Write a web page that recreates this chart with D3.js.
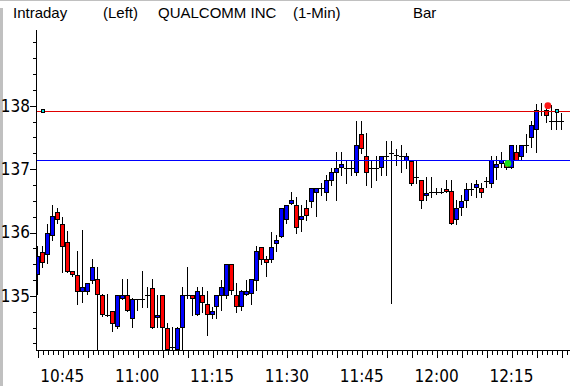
<!DOCTYPE html>
<html>
<head>
<meta charset="utf-8">
<script src="https://cdn.jsdelivr.net/npm/d3@7"></script>
<style>
    body { margin: 0; background: #fff; }
    svg { display: block; }
    .axis text { font-family: "Liberation Sans Narrow", "DejaVu Sans Condensed", sans-serif; font-size: 17px; fill: #000; }
    .title { font-family: "Liberation Sans", Arial, sans-serif; font-size: 15px; fill: #000; }
</style>
</head>
<body>
<svg id="chart"></svg>
<script>
// 1-minute bars, first bar at 10:40
const startTime = "10:40";
const opens = [
    135.34, 135.70, 135.66, 135.96, 136.32, 136.13, 135.85, 135.39, 135.33, 135.07,
    135.07, 135.25, 135.26, 135.01, 134.70, 134.76, 134.52, 134.96, 135.01, 134.65,
    134.95, 134.95, 135.01, 135.12, 134.66, 135.01, 134.50, 134.20, 134.16, 134.51,
    135.01, 135.01, 134.71, 135.01, 134.88, 134.71, 134.84, 135.01, 135.01, 135.51,
    135.01, 134.84, 135.03, 135.04, 135.25, 135.77, 135.58, 135.59, 135.84, 135.95,
    136.21, 136.46, 136.44, 136.21, 136.38, 136.50, 136.64, 136.70, 136.64, 136.83,
    136.96, 137.03, 137.01, 137.01, 136.96, 137.56, 137.20, 137.01, 137.01, 137.04,
    137.20, 137.26, 137.22, 137.21, 137.15, 137.13, 136.88, 136.83, 136.59, 136.64,
    136.64, 136.64, 136.69, 136.65, 136.21, 136.40, 136.52, 136.69, 136.71, 136.70,
    136.82, 136.78, 137.03, 137.09, 137.09, 137.03, 137.27, 137.21, 137.38, 137.51,
    137.64, 137.92, 137.94, 137.76, 137.76, 137.76
];
const highs = [
    135.78, 135.78, 136.13, 136.44, 136.39, 136.25, 136.03, 135.40, 135.71, 136.04,
    135.21, 135.58, 135.46, 135.03, 135.03, 134.76, 135.02, 135.27, 135.27, 134.96,
    134.95, 135.40, 135.14, 135.26, 135.01, 135.01, 134.57, 134.51, 134.51, 135.14,
    135.45, 135.01, 135.14, 135.14, 135.07, 134.83, 135.01, 135.25, 135.51, 135.51,
    135.20, 135.09, 135.25, 135.26, 135.78, 135.77, 135.63, 136.01, 135.96, 136.38,
    136.44, 136.64, 136.56, 136.44, 136.51, 136.70, 136.70, 136.78, 136.91, 137.01,
    137.27, 137.27, 137.14, 137.14, 137.76, 137.76, 137.57, 137.14, 137.21, 137.21,
    137.44, 137.44, 137.31, 137.38, 137.25, 137.13, 137.13, 136.83, 136.88, 136.88,
    136.70, 136.70, 136.83, 136.83, 136.51, 136.59, 136.78, 136.78, 136.83, 136.78,
    136.88, 137.21, 137.21, 137.27, 137.14, 137.38, 137.38, 137.38, 137.56, 137.76,
    138.02, 138.04, 138.04, 138.01, 137.94, 137.88
];
const lows = [
    135.03, 135.45, 135.52, 135.88, 136.15, 135.38, 135.38, 135.31, 134.88, 134.90,
    135.03, 135.20, 134.00, 134.69, 134.69, 134.44, 134.50, 134.95, 134.76, 134.51,
    134.78, 134.83, 134.83, 134.50, 134.51, 134.10, 134.10, 134.10, 134.10, 134.10,
    134.96, 134.70, 134.70, 134.75, 134.39, 134.65, 134.65, 134.78, 134.96, 135.03,
    134.75, 134.77, 135.02, 134.87, 135.09, 135.51, 135.31, 135.53, 135.71, 135.93,
    136.15, 136.45, 136.00, 136.02, 136.20, 136.40, 136.26, 136.59, 136.51, 136.75,
    136.51, 136.90, 136.78, 136.90, 136.90, 137.25, 136.75, 136.71, 136.83, 136.90,
    136.90, 134.89, 137.06, 136.96, 137.01, 136.75, 136.78, 136.38, 136.52, 136.56,
    136.61, 136.62, 136.64, 136.13, 136.13, 136.28, 136.41, 136.59, 136.56, 136.56,
    136.72, 136.71, 136.85, 137.03, 137.00, 137.02, 137.14, 137.14, 137.27, 137.35,
    137.27, 137.85, 137.75, 137.64, 137.64, 137.64
];
const closes = [
    135.63, 135.53, 136.00, 136.26, 136.21, 135.78, 135.40, 135.34, 135.07, 135.14,
    135.20, 135.46, 135.03, 134.71, 134.70, 134.58, 135.01, 135.01, 134.77, 134.95,
    134.95, 134.95, 135.01, 134.51, 134.70, 134.51, 134.16, 134.20, 134.50, 135.01,
    135.01, 134.96, 135.07, 134.90, 134.71, 134.76, 135.01, 135.14, 135.51, 135.09,
    134.84, 135.07, 135.07, 135.26, 135.71, 135.59, 135.53, 135.77, 135.88, 136.38,
    136.44, 136.51, 136.08, 136.26, 136.27, 136.70, 136.70, 136.70, 136.83, 136.95,
    137.02, 137.08, 137.01, 137.01, 137.38, 137.33, 136.96, 137.01, 137.01, 137.20,
    137.20, 137.26, 137.22, 137.21, 137.21, 136.78, 136.88, 136.52, 136.63, 136.64,
    136.64, 136.64, 136.65, 136.15, 136.38, 136.50, 136.69, 136.69, 136.76, 136.64,
    136.82, 137.14, 137.08, 137.14, 137.03, 137.38, 137.14, 137.38, 137.38, 137.69,
    137.94, 137.92, 137.85, 137.76, 137.76, 137.76
];

// horizontal lines and markers drawn over the bars
const redLevel = 137.92;
const blueLevel = 137.14;
const levelMarkTimes = ["10:41", "12:24"];
const dots = [
    { time: "12:14", value: 137.09, color: "#18e018" },
    { time: "12:22", value: 138.00, color: "#ff1818" }
];

const yLabelTicks = [135, 136, 137, 138];
const xLabelTimes = ["10:45", "11:00", "11:15", "11:30", "11:45", "12:00", "12:15"];

class CandleChart {
    constructor(_config = {}) {
        this.config = {
            parentElement: _config.parentElement,
            width: 570,
            height: 386,
            plot: { left: 36, right: 570, top: 30, bottom: 350 },
            xDomain: ["10:39:38", "12:26:38"],
            yDomain: [134.147, 139.194],
        };
        this.parseMin = d3.timeParse("%H:%M");
        this.parseSec = d3.timeParse("%H:%M:%S");
        this.initVis();
    }

    initVis() {
        let vis = this;
        const p = vis.config.plot;

        vis.svg = d3.select(vis.config.parentElement)
            .attr('width', vis.config.width)
            .attr('height', vis.config.height);

        vis.xScale = d3.scaleTime()
            .domain(vis.config.xDomain.map(vis.parseSec))
            .range([p.left, p.right]);

        vis.yScale = d3.scaleLinear()
            .domain(vis.config.yDomain)
            .range([p.bottom, p.top]);

        // window border
        vis.svg.append('rect')
            .attr('x', 0).attr('y', 0)
            .attr('width', vis.config.width).attr('height', 1)
            .attr('fill', '#c0c0c0');
        vis.svg.append('rect')
            .attr('x', 0).attr('y', 8)
            .attr('width', 3).attr('height', vis.config.height - 8)
            .attr('fill', '#c0c0c0');

        const titles = [
            { text: "Intraday", x: 13 },
            { text: "(Left)", x: 103 },
            { text: "QUALCOMM INC", x: 158 },
            { text: "(1-Min)", x: 293 },
            { text: "Bar", x: 413 },
        ];
        vis.svg.selectAll('.title')
            .data(titles)
            .enter()
            .append('text')
            .attr('class', 'title')
            .attr('x', d => d.x)
            .attr('y', 18)
            .text(d => d.text);

        vis.svg.append('clipPath')
            .attr('id', 'plot-clip')
            .append('rect')
            .attr('x', p.left).attr('y', p.top)
            .attr('width', p.right - p.left).attr('height', p.bottom - p.top);

        vis.chart = vis.svg.append('g')
            .attr('clip-path', 'url(#plot-clip)');

        vis.axisG = vis.svg.append('g');
    }

    renderVis() {
        let vis = this;
        const p = vis.config.plot;
        const start = vis.parseMin(startTime);

        vis.data = opens.map((o, i) => ({
            time: d3.timeMinute.offset(start, i),
            open: o, high: highs[i], low: lows[i], close: closes[i]
        }));

        const cx = d => Math.round(vis.xScale(d.time));
        const py = v => Math.round(vis.yScale(v));

        const bars = vis.chart.selectAll('.bar')
            .data(vis.data)
            .enter()
            .append('g')
            .attr('class', 'bar')
            .attr('shape-rendering', 'crispEdges');

        bars.append('line')
            .attr('x1', d => cx(d) - 0.5)
            .attr('x2', d => cx(d) - 0.5)
            .attr('y1', d => py(d.high))
            .attr('y2', d => py(d.low) + 1)
            .attr('stroke', '#000');

        bars.filter(d => d.open === d.close)
            .append('line')
            .attr('x1', d => cx(d) - 3)
            .attr('x2', d => cx(d) + 2)
            .attr('y1', d => py(d.open) + 0.5)
            .attr('y2', d => py(d.open) + 0.5)
            .attr('stroke', '#000');

        bars.filter(d => d.open !== d.close)
            .append('rect')
            .attr('x', d => cx(d) - 2.5)
            .attr('y', d => py(Math.max(d.open, d.close)) + 0.5)
            .attr('width', 4)
            .attr('height', d => Math.max(1, py(Math.min(d.open, d.close)) - py(Math.max(d.open, d.close))))
            .attr('fill', d => d.close > d.open ? '#0000ff' : '#ff0000')
            .attr('stroke', '#000');

        // levels
        vis.chart.append('line')
            .attr('x1', p.left).attr('x2', p.right)
            .attr('y1', py(redLevel) + 0.5).attr('y2', py(redLevel) + 0.5)
            .attr('stroke', '#e00000')
            .attr('shape-rendering', 'crispEdges');
        vis.chart.append('line')
            .attr('x1', p.left).attr('x2', p.right)
            .attr('y1', py(blueLevel) + 0.5).attr('y2', py(blueLevel) + 0.5)
            .attr('stroke', '#0000ff')
            .attr('shape-rendering', 'crispEdges');

        vis.chart.selectAll('.level-mark')
            .data(levelMarkTimes)
            .enter()
            .append('rect')
            .attr('class', 'level-mark')
            .attr('x', d => Math.round(vis.xScale(vis.parseMin(d))) - 1.5)
            .attr('y', py(redLevel) - 1.5)
            .attr('width', 3).attr('height', 3)
            .attr('fill', '#00e0e0')
            .attr('stroke', '#000')
            .attr('shape-rendering', 'crispEdges');

        vis.chart.selectAll('.dot')
            .data(dots)
            .enter()
            .append('circle')
            .attr('class', 'dot')
            .attr('cx', d => vis.xScale(vis.parseMin(d.time)) + 1)
            .attr('cy', d => vis.yScale(d.value))
            .attr('r', 3.4)
            .attr('fill', d => d.color);

        vis.renderAxes();
    }

    renderAxes() {
        let vis = this;
        const p = vis.config.plot;
        const tf = d3.timeFormat("%H:%M");

        // y axis
        const yMinor = d3.range(134.25, 139.01, 0.25).filter(v => !yLabelTicks.includes(v));
        const yMinorG = vis.axisG.append('g')
            .attr('class', 'axis')
            .attr('transform', `translate(${p.left},0)`)
            .call(d3.axisLeft(vis.yScale).tickValues(yMinor).tickSize(3).tickFormat(''));
        yMinorG.select('.domain').remove();

        const yMajorG = vis.axisG.append('g')
            .attr('class', 'axis')
            .attr('transform', `translate(${p.left},0)`)
            .call(d3.axisLeft(vis.yScale).tickValues(yLabelTicks).tickSize(6).tickPadding(0).tickFormat(d3.format('d')));
        yMajorG.select('.domain').remove();

        vis.axisG.append('line')
            .attr('x1', p.left + 0.5).attr('x2', p.left + 0.5)
            .attr('y1', p.top).attr('y2', p.bottom + 1)
            .attr('stroke', '#000');

        // x axis
        const xTicks = d3.timeMinute.range(vis.xScale.domain()[0], vis.xScale.domain()[1]);
        const xMinorG = vis.axisG.append('g')
            .attr('class', 'axis')
            .attr('transform', `translate(0,${p.bottom})`)
            .call(d3.axisBottom(vis.xScale).tickValues(xTicks.filter(t => t.getMinutes() % 5 !== 0)).tickSize(5).tickFormat(''));
        xMinorG.select('.domain').remove();

        const x5G = vis.axisG.append('g')
            .attr('class', 'axis')
            .attr('transform', `translate(0,${p.bottom})`)
            .call(d3.axisBottom(vis.xScale).tickValues(xTicks.filter(t => t.getMinutes() % 5 === 0)).tickSize(8).tickFormat(''));
        x5G.select('.domain').remove();

        const xLabelG = vis.axisG.append('g')
            .attr('class', 'axis')
            .attr('transform', `translate(0,${p.bottom})`)
            .call(d3.axisBottom(vis.xScale).tickValues(xLabelTimes.map(vis.parseMin)).tickSize(0).tickPadding(20).tickFormat(tf));
        xLabelG.select('.domain').remove();
        xLabelG.selectAll('text').attr('dx', -1);

        vis.axisG.append('line')
            .attr('x1', p.left).attr('x2', p.right)
            .attr('y1', p.bottom + 0.5).attr('y2', p.bottom + 0.5)
            .attr('stroke', '#000');

        vis.axisG.selectAll('.tick line').attr('shape-rendering', 'crispEdges');
    }
}

const chart = new CandleChart({ parentElement: '#chart' });
chart.renderVis();
</script>
</body>
</html>
